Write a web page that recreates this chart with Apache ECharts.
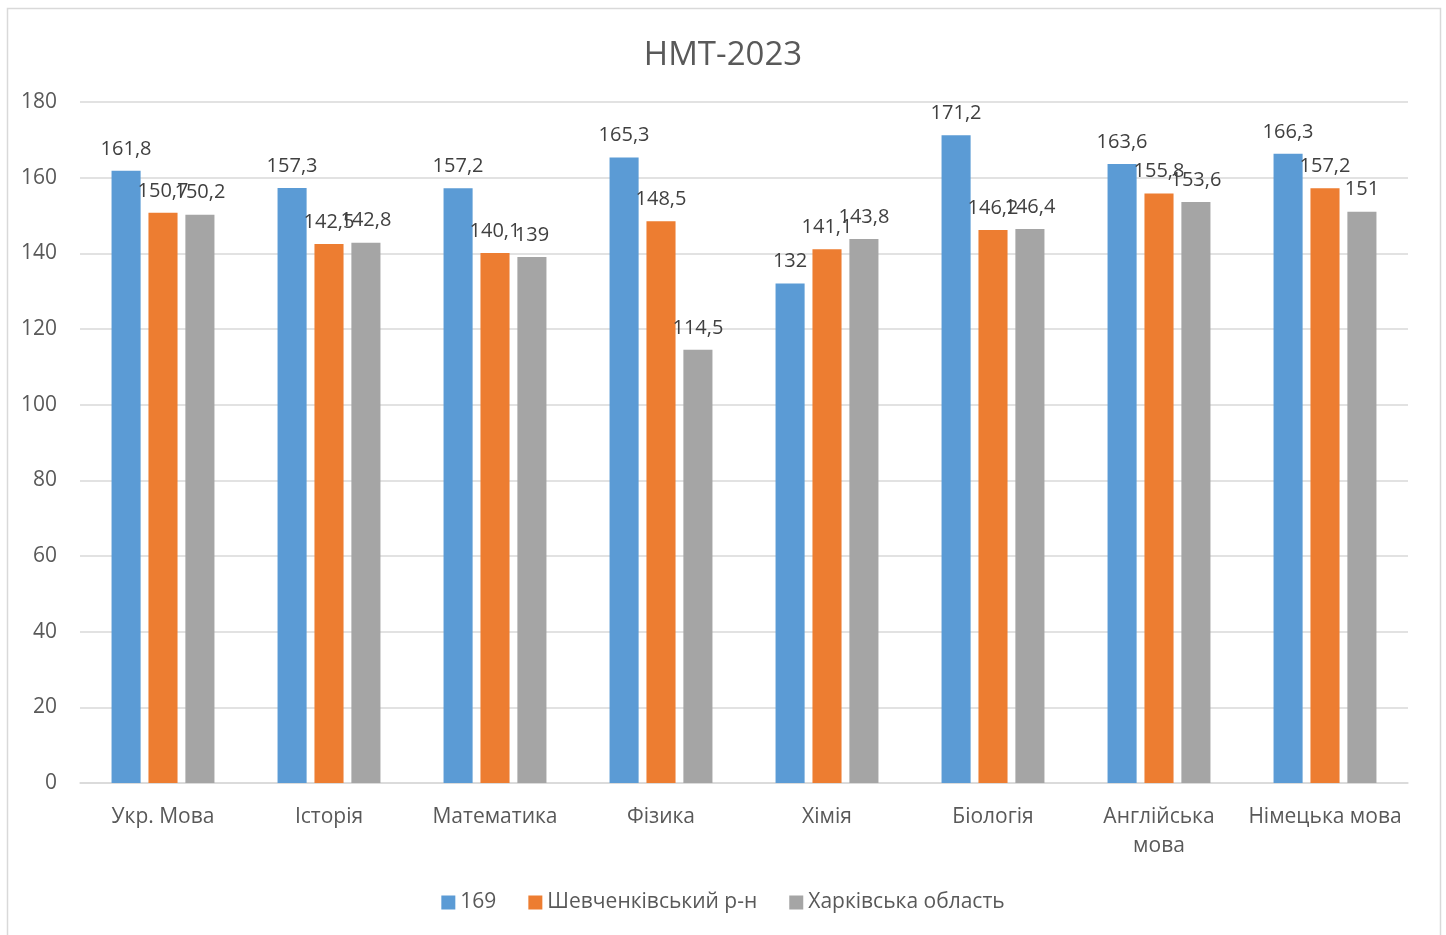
<!DOCTYPE html>
<html>
<head>
<meta charset="utf-8">
<script src="https://cdn.jsdelivr.net/npm/echarts@6/dist/echarts.min.js"></script>
<style>
  html, body { margin: 0; padding: 0; background: #fff; }
  #chart { width: 1446px; height: 935px; }
</style>
</head>
<body>
<div id="chart"></div>
<script>
// НМТ-2023: середні бали за предметами
const subjects = ['Укр. Мова', 'Історія', 'Математика', 'Фізика', 'Хімія', 'Біологія', 'Англійська мова', 'Німецька мова'];
const school169 = [161.8, 157.3, 157.2, 165.3, 132, 171.2, 163.6, 166.3];
const shevchenkivskyi = [150.7, 142.5, 140.1, 148.5, 141.1, 146.2, 155.8, 157.2];
const kharkivOblast = [150.2, 142.8, 139, 114.5, 143.8, 146.4, 153.6, 151];
const seriesNames = ['169', 'Шевченківський р-н', 'Харківська область'];
const yTicks = { min: 0, max: 180, interval: 20 };

const FONT = '"Open Sans", "Noto Sans", sans-serif';
const TEXT = '#595959';
const colors = ['#5B9BD5', '#ED7D31', '#A5A5A5'];

const fmt = v => String(v).replace('.', ',');
// long subject names go on two lines
const wrapLabel = v => (v.length > 14 ? v.replace(' ', '\n') : v);

function barSeries(name, data, color) {
  return {
    name: name,
    type: 'bar',
    data: data,
    barGap: '27%',
    barCategoryGap: '38%',
    itemStyle: { color: color },
    label: {
      show: true,
      position: 'top',
      distance: 12,
      color: '#404040',
      fontFamily: FONT,
      fontSize: 20,
      formatter: p => fmt(p.value)
    }
  };
}

const chart = echarts.init(document.getElementById('chart'), null, { renderer: 'canvas' });
chart.setOption({
  backgroundColor: '#fff',
  animation: false,
  color: colors,
  title: {
    text: 'НМТ-2023',
    left: 'center',
    top: 34,
    textStyle: { color: TEXT, fontFamily: FONT, fontSize: 33, fontWeight: 'normal' }
  },
  graphic: [{
    type: 'rect',
    shape: { x: 7.5, y: 8.5, width: 1433, height: 940 },
    style: { fill: 'none', stroke: '#d9d9d9', lineWidth: 1.5 },
    silent: true,
    z: -10
  }],
  legend: {
    bottom: 17,
    left: 'center',
    itemWidth: 14,
    itemHeight: 14,
    itemGap: 32,
    icon: 'rect',
    textStyle: { color: TEXT, fontFamily: FONT, fontSize: 21 },
    data: seriesNames
  },
  grid: { left: 80, right: 38, top: 102, bottom: 152, containLabel: false },
  xAxis: {
    type: 'category',
    data: subjects,
    axisLine: { lineStyle: { color: '#d9d9d9', width: 1.5 } },
    axisTick: { show: false },
    axisLabel: {
      color: TEXT,
      fontFamily: FONT,
      fontSize: 21,
      margin: 20,
      lineHeight: 29,
      interval: 0,
      formatter: wrapLabel
    }
  },
  yAxis: {
    type: 'value',
    min: yTicks.min,
    max: yTicks.max,
    interval: yTicks.interval,
    axisLine: { show: false },
    axisTick: { show: false },
    splitLine: { lineStyle: { color: '#d9d9d9', width: 1.5 } },
    axisLabel: { color: TEXT, fontFamily: FONT, fontSize: 21, margin: 23 }
  },
  series: [
    barSeries(seriesNames[0], school169, colors[0]),
    barSeries(seriesNames[1], shevchenkivskyi, colors[1]),
    barSeries(seriesNames[2], kharkivOblast, colors[2])
  ]
});
</script>
</body>
</html>
